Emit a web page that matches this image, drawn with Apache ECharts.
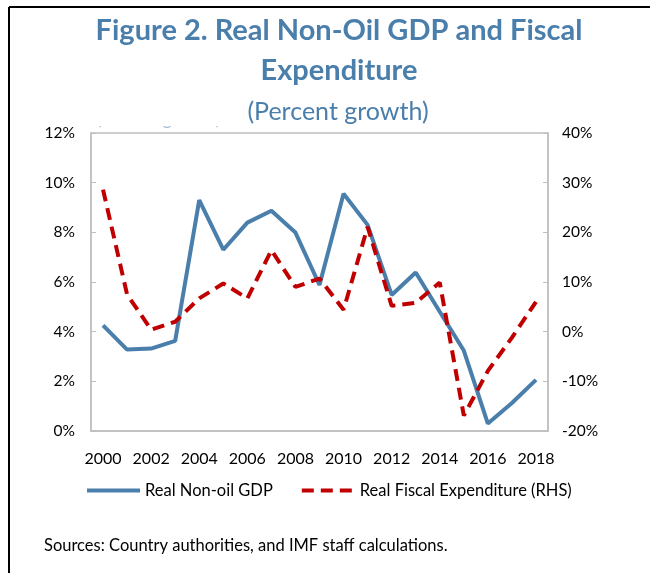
<!DOCTYPE html>
<html>
<head>
<meta charset="utf-8">
<script src="https://cdn.jsdelivr.net/npm/echarts@6/dist/echarts.min.js"></script>
<style>
  html, body { margin: 0; padding: 0; background: #fff; }
  #chart { width: 650px; height: 573px; }
</style>
</head>
<body>
<div id="chart"></div>
<script>
// Years on the category axis
const years = ['2000','2001','2002','2003','2004','2005','2006','2007','2008','2009',
               '2010','2011','2012','2013','2014','2015','2016','2017','2018'];
// Real non-oil GDP growth, percent (left axis)
const nonOilGdp = [4.25, 3.28, 3.32, 3.63, 9.3, 7.3, 8.39, 8.87, 7.99, 5.88,
                   9.55, 8.3, 5.48, 6.38, 4.8, 3.24, 0.3, 1.13, 2.06];
// Real fiscal expenditure growth, percent (right axis)
const fiscalExp = [28.6, 7.5, 0.4, 2.0, 6.7, 9.7, 6.7, 16.4, 9.0, 10.7,
                   4.4, 21.1, 5.2, 5.8, 9.9, -16.9, -7.9, -1.2, 6.0];

const FONT = 'Lato, "Open Sans", sans-serif';
const BLUE = '#4A7EAB';
const RED = '#C00000';
const GRID_LINE = '#BFBFBF';

const chart = echarts.init(document.getElementById('chart'));
chart.setOption({
  backgroundColor: '#fff',
  animation: false,
  textStyle: { fontFamily: FONT },
  title: [
    {
      text: 'Figure 2. Real Non-Oil GDP and Fiscal\nExpenditure',
      left: 334, top: 6, textAlign: 'center',
      textStyle: { fontFamily: FONT, fontSize: 29, fontWeight: 'bold', color: BLUE, lineHeight: 40 }
    },
    {
      text: '(Percent growth)',
      left: 333, top: 94, textAlign: 'center',
      textStyle: { fontFamily: FONT, fontSize: 25, fontWeight: 'normal', color: BLUE }
    }
  ],
  graphic: [
    // outer frame (top and left edges)
    { type: 'line', shape: { x1: 9, y1: 7, x2: 650, y2: 7 }, style: { stroke: '#000', lineWidth: 2 }, z: 10 },
    { type: 'line', shape: { x1: 9, y1: 7, x2: 9, y2: 573 }, style: { stroke: '#000', lineWidth: 2 }, z: 10 },
    // faint lower edge of a second subtitle line peeking above the plot
    { type: 'text', left: 97, top: 111, z: 1,
      style: { text: '(Percent growth)', font: '17px ' + FONT, fill: '#9DBAD6' } },
    { type: 'rect', left: 88, top: 96, z: 100,
      shape: { width: 150, height: 30 }, style: { fill: '#ffffff' } },
    // source note
    { type: 'text', left: 44, top: 537, z: 10,
      style: { text: 'Sources: Country authorities, and IMF staff calculations.', font: '16.5px ' + FONT, fill: '#000' } }
  ],
  legend: {
    left: 85, top: 482, padding: 0,
    itemWidth: 53, itemHeight: 4, itemGap: 27,
    textStyle: { fontFamily: FONT, fontSize: 16.5, color: '#000' },
    itemStyle: { opacity: 0 },
    lineStyle: { width: 4 },
    data: [
      { name: 'Real Non-oil GDP' },
      { name: 'Real Fiscal Expenditure (RHS)' }
    ]
  },
  grid: {
    left: 91, right: 102, top: 133, bottom: 142,
    show: true, borderColor: GRID_LINE, borderWidth: 1.5, backgroundColor: 'transparent'
  },
  xAxis: {
    type: 'category',
    data: years,
    boundaryGap: true,
    axisLine: { lineStyle: { color: GRID_LINE, width: 1.5 } },
    axisTick: { inside: true, length: 5, lineStyle: { color: GRID_LINE } },
    axisLabel: { interval: 1, color: '#000', fontSize: 16, fontFamily: FONT, margin: 20 },
    splitLine: { show: false }
  },
  yAxis: [
    {
      type: 'value', min: 0, max: 12, interval: 2,
      axisLine: { show: true, lineStyle: { color: GRID_LINE, width: 1.5 } },
      axisTick: { show: true, inside: true, length: 5, lineStyle: { color: GRID_LINE } },
      axisLabel: { formatter: '{value}%', color: '#000', fontSize: 15.5, fontFamily: FONT, margin: 16 },
      splitLine: { show: false }
    },
    {
      type: 'value', min: -20, max: 40, interval: 10,
      axisLine: { show: true, lineStyle: { color: GRID_LINE, width: 1.5 } },
      axisTick: { show: true, inside: true, length: 5, lineStyle: { color: GRID_LINE } },
      axisLabel: { formatter: '{value}%', color: '#000', fontSize: 15.5, fontFamily: FONT, margin: 14 },
      splitLine: { show: false }
    }
  ],
  series: [
    {
      name: 'Real Non-oil GDP',
      type: 'line', yAxisIndex: 0,
      data: nonOilGdp,
      symbol: 'none',
      color: BLUE,
      lineStyle: { color: BLUE, width: 4 },
      z: 3
    },
    {
      name: 'Real Fiscal Expenditure (RHS)',
      type: 'line', yAxisIndex: 1,
      data: fiscalExp,
      symbol: 'none',
      color: RED,
      lineStyle: { color: RED, width: 4, type: [12, 7] },
      z: 4
    }
  ]
});
</script>
</body>
</html>
